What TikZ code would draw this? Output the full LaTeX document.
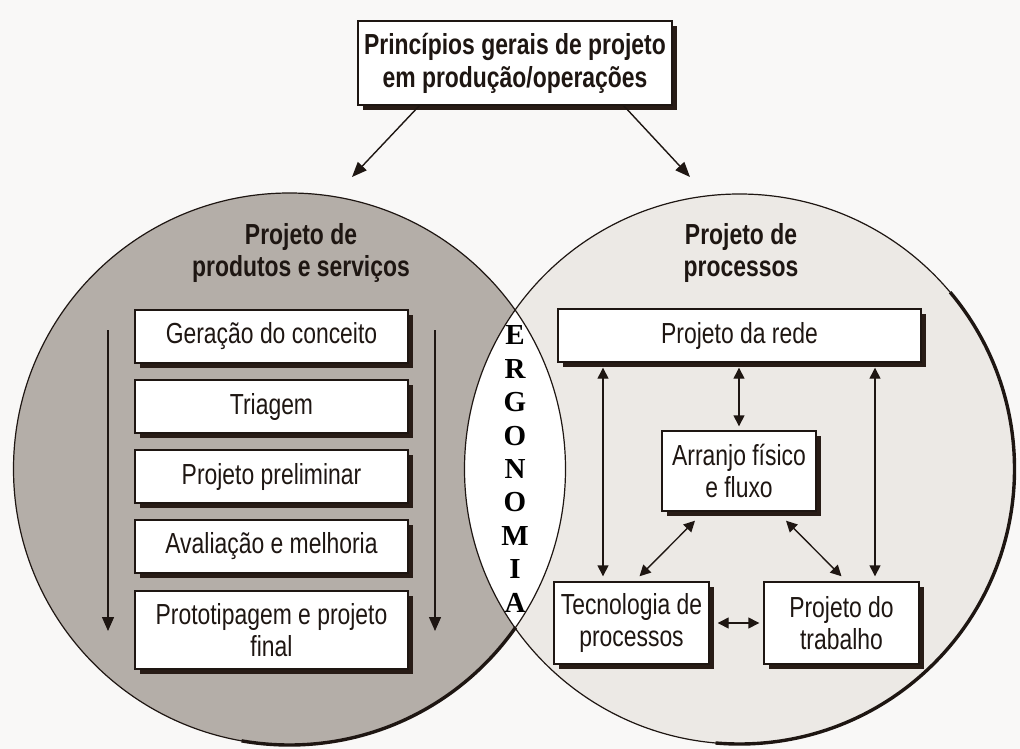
\documentclass[tikz,border=0pt]{standalone}
\usepackage{fontspec}
\newfontfamily\cond[FakeStretch=0.79]{Liberation Sans}
\newfontfamily\tnr{Liberation Serif}
\usetikzlibrary{arrows.meta,shadows,calc}
\definecolor{ink}{RGB}{30,22,18}
\definecolor{leftfill}{RGB}{180,174,168}
\definecolor{rightfill}{RGB}{236,233,229}
\definecolor{paper}{RGB}{249,248,247}
\definecolor{shade}{RGB}{40,28,22}
\begin{document}
\begin{tikzpicture}[x=1pt,y=-1pt,
  txt/.style={font=\cond\fontsize{29}{32}\selectfont, text=ink},
  boldtxt/.style={font=\cond\bfseries\fontsize{29}{32}\selectfont, text=ink, align=center},
  box/.style={txt, draw=ink, line width=1.4pt, fill=white, inner sep=0pt, align=center,
     drop shadow={shadow xshift=5pt, shadow yshift=-5pt, fill=shade, opacity=1}},
  conn/.style={draw=ink, line width=1.4pt, -{Triangle[length=14pt,width=12pt]}},
  bigconn/.style={draw=ink, line width=1.4pt, -{Triangle[length=15pt,width=12pt]}},
  dconn/.style={draw=ink, line width=1.4pt, {Triangle[length=11pt,width=11pt]}-{Triangle[length=11pt,width=11pt]}},
  circ/.style={draw=ink, line width=1.2pt}
]
\useasboundingbox (0,0) rectangle (1020,749);
\fill[paper] (0,0) rectangle (1020,749);

\coordinate (cL) at (289.5,469);
\coordinate (cR) at (739.5,469);

% circle fills
\fill[rightfill] (cR) circle[radius=275];
\fill[leftfill] (cL) circle[radius=276];
\begin{scope}
  \clip (cL) circle[radius=276];
  \fill[white] (cR) circle[radius=275];
\end{scope}
% outlines
\draw[circ] (cL) circle[radius=276];
\draw[circ] (cR) circle[radius=275];
\begin{scope}
  \clip (cL) -- ($(cL)+(35:420)$) -- ($(cL)+(67:420)$) -- ($(cL)+(100:420)$) -- cycle;
  \draw[ink, line width=3.4pt] (cL) circle[radius=276];
\end{scope}
\begin{scope}
  \clip (cR) -- ($(cR)+(-40:420)$) -- ($(cR)+(0:420)$) -- ($(cR)+(45:420)$) -- ($(cR)+(95:420)$) -- cycle;
  \draw[ink, line width=3.4pt] (cR) circle[radius=275];
\end{scope}

% top box
\node[box, font=\cond\bfseries\fontsize{29}{33}\selectfont, minimum width=314pt, minimum height=84pt] (top) at (515,63) {Princípios gerais de projeto\\em produção/operações};
\coordinate (aL) at (352,177);
\coordinate (aR) at (690,177);
\draw[bigconn] ([xshift=62pt]top.south west) -- (aL);
\draw[bigconn] ([xshift=-49pt]top.south east) -- (aR);

% titles
\node[boldtxt] (tL) at (301,253) {Projeto de\\produtos e serviços};
\node[boldtxt] (tR) at (741,253) {Projeto de\\processos};

% left boxes
\node[box, minimum width=273pt, minimum height=53pt] (b1) at (271.5,336.5) {Geração do conceito};
\node[box, minimum width=273pt, minimum height=53pt] (b2) at (271.5,406.5) {Triagem};
\node[box, minimum width=273pt, minimum height=53pt] (b3) at (271.5,476.5) {Projeto preliminar};
\node[box, minimum width=273pt, minimum height=53pt] (b4) at (271.5,546.5) {Avaliação e melhoria};
\node[box, minimum width=273pt, minimum height=78pt] (b5) at (271.5,630) {Prototipagem e projeto\\final};
\coordinate (l1s) at (108,330);
\coordinate (l1e) at (108,631);
\coordinate (l2s) at (435,330);
\coordinate (l2e) at (435,631);
\draw[conn] (l1s) -- (l1e);
\draw[conn] (l2s) -- (l2e);

% ERGONOMIA
\node[font=\tnr\bfseries\fontsize{29}{33.4}\selectfont, text=black, align=center, inner sep=0pt] (ergo) at (515,469) {E\\R\\G\\O\\N\\O\\M\\I\\A};

% right boxes
\node[box, minimum width=363pt, minimum height=53pt] (rede) at (739.5,335.5) {Projeto da rede};
\node[box, minimum width=154pt, minimum height=80pt] (arr) at (739,471) {Arranjo físico\\e fluxo};
\node[box, minimum width=155pt, minimum height=82pt] (tec) at (631.5,623) {Tecnologia de\\processos};
\node[box, minimum width=155pt, minimum height=82pt] (trab) at (841.5,623) {Projeto do\\trabalho};

\coordinate (vl) at (603,0);
\coordinate (vr) at (875,0);
\draw[dconn, shorten <=5pt, shorten >=5pt] (rede.south -| vl) -- (tec.north -| vl);
\draw[dconn, shorten <=5pt, shorten >=5pt] (rede.south -| vr) -- (trab.north -| vr);
\draw[dconn, shorten <=5pt, shorten >=4pt] (rede.south -| arr.north) -- (arr.north);
\draw[dconn] ([shift={(-44,9)}]arr.south) -- ([shift={(8,-5)}]tec.north);
\draw[dconn] ([shift={(47,9)}]arr.south) -- ([shift={(0,-5)}]trab.north);
\draw[dconn, shorten <=8pt, shorten >=4pt] (tec.east) -- (trab.west);
\end{tikzpicture}
\end{document}
